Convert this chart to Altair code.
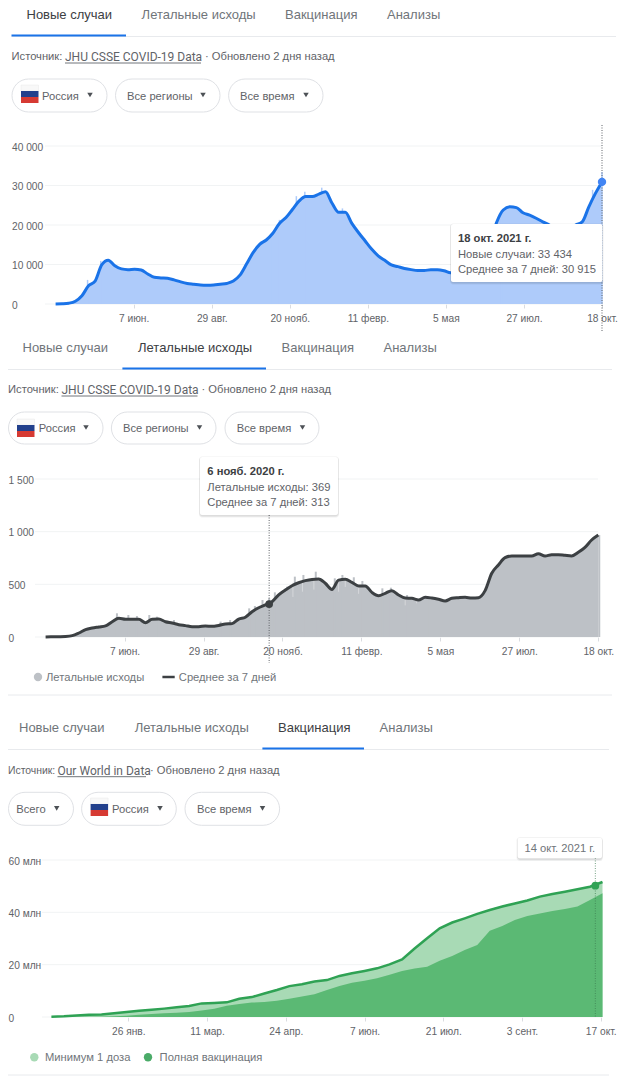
import altair as alt
import pandas as pd

FONT = "Liberation Sans"
LATIN = "Roboto"
GREY = "#70757a"
DARK = "#3c4043"
LINEC = "#e8eaed"
GRID = "#f1f3f4"
BLUE = "#1a73e8"
BODY = 11.2

W, H = 624, 1068

# ---------- Panel 1: new cases ----------
cases_avg = [0, 50, 200, 700, 2100, 4600, 5800, 9900, 11100, 9700, 8900, 8700, 8800, 8600, 7600, 6750, 6600, 6500,
             6100, 5600, 5200, 5000, 4800, 4750, 4800, 5000, 5200, 5800, 7300, 10100, 13000, 15100, 16200, 17900,
             20400, 21900, 24000, 26100, 27200, 27200, 27800, 28400, 25500, 23200, 23200, 20400, 18100, 16000, 13900,
             12200, 11050, 9900, 9450, 9000, 8700, 8500, 8500, 8650, 8650, 8400, 7900, 8000, 8500, 9300, 10000, 12000,
             15500, 20700, 23800, 24600, 24400, 23100, 22500, 21700, 20800, 20000, 19000, 18500, 18800, 20000, 20800,
             24600, 28000, 30915]
cases_spike_dates = ["2020-04-19", "2020-05-03", "2020-10-31", "2020-11-09", "2020-11-27", "2020-12-06", "2020-12-24",
                     "2021-01-15", "2021-07-03", "2021-10-08", "2021-10-18"]
cases_spike_vals = [6100, 10900, 17500, 21300, 27300, 28400, 29450, 24200, 22300, 28900, 33434]
cases_grid = [0, 10000, 20000, 30000, 40000]
cases_ticks = ["2020-06-07", "2020-08-29", "2020-11-20", "2021-02-11", "2021-05-05", "2021-07-27", "2021-10-18"]

# ---------- Panel 2: deaths ----------
deaths_avg = [0, 2, 3, 5, 13, 38, 70, 85, 95, 105, 145, 177, 168, 168, 168, 136, 168, 170, 145, 133, 117, 108, 98, 98,
              105, 101, 110, 123, 127, 170, 187, 240, 278, 304, 335, 400, 446, 487, 515, 535, 547, 550, 510, 452, 540,
              548, 519, 484, 484, 424, 392, 415, 440, 399, 370, 367, 351, 377, 370, 358, 342, 367, 373, 377, 370, 373,
              440, 605, 684, 753, 769, 769, 769, 769, 791, 769, 782, 782, 775, 769, 804, 851, 921, 968]
deaths_spike_dates = ["2020-05-30", "2020-06-11", "2020-06-20", "2020-07-03", "2020-07-11", "2020-07-29", "2020-09-16",
                      "2020-09-26", "2020-10-16", "2020-10-22", "2020-10-30", "2020-11-06", "2020-11-12", "2020-11-25",
                      "2020-12-03", "2020-12-12", "2020-12-25", "2021-01-14", "2021-01-22", "2021-02-03", "2021-02-12",
                      "2021-03-05", "2021-03-14", "2021-03-31", "2021-04-21", "2021-10-19"]
deaths_spike_vals = [225, 209, 199, 209, 193, 161, 146, 161, 272, 294, 351, 369, 424, 478, 573, 589, 620, 557, 589, 567,
                     532, 462, 468, 399, 389, 968]
deaths_notch_dates = ["2020-07-29", "2020-12-01", "2020-12-11", "2020-12-23", "2021-01-18", "2021-01-25", "2021-02-08",
                      "2021-03-29", "2021-04-10"]
deaths_notch_low = [110, 380, 430, 450, 430, 475, 410, 300, 320]
deaths_notch_top = [133, 515, 535, 547, 540, 548, 484, 370, 360]
deaths_grid = [0, 500, 1000, 1500]

# ---------- Panel 3: vaccination ----------
dose1 = [0.13, 0.25, 0.6, 0.9, 1.0, 1.4, 1.9, 2.4, 2.8, 3.2, 3.7, 4.2, 5.2, 5.35, 5.6, 7.0, 7.6, 9.0, 10.3, 11.8, 12.5,
         13.6, 14.1, 15.7, 16.7, 17.6, 18.6, 20.1, 22.0, 26.2, 30.1, 33.9, 36.1, 37.7, 39.4, 40.9, 42.2, 43.4, 44.5,
         46.0, 47.0, 47.9, 48.8, 49.8, 51.6]
full_dose = [0, 0, 0.02, 0.05, 0.1, 0.25, 0.5, 0.9, 1.15, 1.4, 1.65, 1.9, 2.5, 3.2, 4.3, 5.0, 5.5, 5.7, 6.2, 7.0, 7.8,
             8.7, 10.3, 11.8, 13.1, 13.9, 14.8, 16.1, 17.6, 18.5, 19.2, 21.5, 23.3, 25.6, 27.5, 33.0, 34.8, 37.1, 38.6,
             39.6, 40.5, 41.3, 42.2, 44.7, 47.3]
vax_grid = [0, 20000000, 40000000, 60000000]
vax_ticks = ["2021-01-26", "2021-03-11", "2021-04-24", "2021-06-07", "2021-07-21", "2021-09-03", "2021-10-17"]

MONTHS = "['янв.','февр.','мар.','апр.','мая','июн.','июл.','авг.','сент.','окт.','нояб.','дек.']"
DATE_EXPR = f"date(datum.value) + ' ' + {MONTHS}[month(datum.value)]"
weeks_a = pd.date_range("2020-03-16", periods=84, freq="7D")
weeks_v = pd.date_range("2020-12-14", periods=45, freq="7D")

df_cases = pd.DataFrame({"d": weeks_a, "v": cases_avg})
df_cspk = pd.DataFrame({"d": pd.to_datetime(cases_spike_dates), "v": cases_spike_vals, "b": 0})
df_cgrid = pd.DataFrame({"v": cases_grid})
df_deaths = pd.DataFrame({"d": weeks_a, "v": deaths_avg})
df_dspk = pd.DataFrame({"d": pd.to_datetime(deaths_spike_dates), "v": deaths_spike_vals, "b": 0})
df_dnotch = pd.DataFrame({"d": pd.to_datetime(deaths_notch_dates), "v": deaths_notch_low, "t": deaths_notch_top})
df_dgrid = pd.DataFrame({"v": deaths_grid})
df_vax = pd.DataFrame({"d": weeks_v, "a": [x * 1e6 for x in dose1], "f": [x * 1e6 for x in full_dose]})
df_vgrid = pd.DataFrame({"v": vax_grid})


def lx(p):
    return p - 8


def ly(p):
    return p - 8


def txt(s, x, y, size=BODY, color=GREY, weight="normal", align="left", font=FONT):
    return alt.Chart().mark_text(font=font, fontSize=size, color=color, fontWeight=weight, align=align,
                                 baseline="middle").encode(x=alt.value(lx(x)), y=alt.value(ly(y) + 1),
                                                           text=alt.value(s))


def box(x0, x1, y0, y1, fill="white", stroke=None, radius=0, opacity=1.0, sw=1):
    kw = dict(fill=fill, cornerRadius=radius, opacity=opacity)
    if stroke:
        kw.update(stroke=stroke, strokeWidth=sw)
    return alt.Chart().mark_rect(**kw).encode(x=alt.value(lx(x0)), x2=alt.value(lx(x1)), y=alt.value(ly(y0)),
                                              y2=alt.value(ly(y1)))


def hline(x0, x1, y, color=LINEC, w=1):
    return alt.Chart().mark_rule(color=color, strokeWidth=w).encode(x=alt.value(lx(x0)), x2=alt.value(lx(x1)),
                                                                    y=alt.value(ly(y)))


def tri(x, y):
    return alt.Chart().mark_point(shape="triangle-down", filled=True, size=30, color="#4d5156", opacity=1).encode(
        x=alt.value(lx(x)), y=alt.value(ly(y)))


def dot(x, y, color, size=70):
    return alt.Chart().mark_point(shape="circle", filled=True, size=size, color=color, opacity=1).encode(
        x=alt.value(lx(x)), y=alt.value(ly(y)))


def flag(x0, y0):
    w, h = 17.5, 6
    return [box(x0, x0 + w, y0, y0 + h, fill="#f8f8f8", stroke="#e8e8e8", sw=0.5),
            box(x0, x0 + w, y0 + h, y0 + 2 * h, fill="#22408c"),
            box(x0, x0 + w, y0 + 2 * h, y0 + 3 * h, fill="#d63a33")]


def tabs(xs, y, active, ul0, ul1, sep0, sep1):
    out = []
    for i, (name, x) in enumerate(zip(["Новые случаи", "Летальные исходы", "Вакцинация", "Анализы"], xs)):
        out.append(txt(name, x, y, 13, DARK if i == active else GREY))
    out.append(hline(sep0, sep1, y + 22.5))
    out.append(hline(ul0, ul1, y + 21.5, BLUE, 2))
    return out


def source(x, y, link, linkx, linkend, restx, firstsize=BODY):
    return [txt("Источник:", x, y, firstsize, "#5f6368"), txt(link, linkx, y, 12, "#5f6368", font=LATIN),
            hline(linkx, linkend, y + 7, "#70757a", 1),
            txt("· Обновлено 2 дня назад", restx, y, BODY, "#5f6368")]


def pill(x0, x1, y0, y1, label, tx, trix):
    return [box(x0, x1, y0, y1, stroke="#dfe1e5", radius=16.5), txt(label, tx, (y0 + y1) / 2, BODY, "#5f6368"),
            tri(trix, (y0 + y1) / 2 - 0.5)]


def tooltip(x0, x1, y0, y1):
    return [box(x0 - 1, x1 + 1, y0 - 0.5, y1 + 2.5, fill="black", radius=3, opacity=0.06),
            box(x0 - 0.5, x1 + 0.5, y0, y1 + 1.5, fill="black", radius=3, opacity=0.08),
            box(x0, x1, y0, y1, radius=2)]


def xaxis(zero_y, ticks, expr=DATE_EXPR):
    return alt.Axis(orient="bottom", values=ticks, labelExpr=expr, title=None, grid=False, domain=False,
                    tickColor="#dadce0", tickSize=4, labelPadding=5, labelFont=FONT, labelFontSize=10.2,
                    labelColor="#5f6368", offset=ly(zero_y) - H, labelOverlap=False, labelBound=False,
                    labelFlush=False)


def yaxis(left, vals, expr):
    return alt.Axis(orient="left", values=vals, labelExpr=expr, title=None, grid=False, domain=False, ticks=False,
                    labelPadding=0, labelAlign="left", labelBaseline="middle", labelFont=FONT, labelFontSize=10.2,
                    labelColor="#5f6368", offset=-lx(left), labelOffset=1)


THOUSANDS = "replace(format(datum.value, ','), ',', ' ')"

# ---------- panel 1 charts ----------
x1 = alt.X("d:T", scale=alt.Scale(domain=["2020-03-16", "2021-10-18"], range=[lx(55.6), lx(602)]),
           axis=xaxis(304, cases_ticks))
y1 = alt.Y("v:Q", scale=alt.Scale(domain=[0, 40000], range=[ly(304), ly(146)]), axis=yaxis(11.5, cases_grid, THOUSANDS))
cgrid = alt.Chart(df_cgrid).mark_rule(color=GRID, strokeWidth=1).encode(y=y1, x=alt.value(lx(45)), x2=alt.value(lx(602)))
carea = alt.Chart(df_cases).mark_area(color="#aecbfa", interpolate="monotone").encode(x=x1, y=y1)
cspk = alt.Chart(df_cspk).mark_rule(color="#aecbfa", strokeWidth=1.5).encode(x=x1, y=y1, y2="b:Q")
cline = alt.Chart(df_cases).mark_line(color=BLUE, strokeWidth=3, interpolate="monotone").encode(x=x1, y=y1)
crule = alt.Chart(df_cases.tail(1)).mark_rule(color="#5f6368", strokeWidth=1, strokeDash=[1, 1.5]).encode(
    x=x1, y=alt.value(ly(125)), y2=alt.value(ly(331)))
cdot = alt.Chart(df_cases.tail(1)).mark_point(filled=True, size=70, color="#4285f4", opacity=1).encode(x=x1, y=y1)
p1 = alt.layer(cgrid, carea, cspk, cline, crule, cdot)

# ---------- panel 2 charts ----------
x2 = alt.X("d:T", scale=alt.Scale(domain=["2020-03-16", "2021-10-18"], range=[lx(45.6), lx(598.3)]),
           axis=xaxis(637, cases_ticks))
y2 = alt.Y("v:Q", scale=alt.Scale(domain=[0, 1500], range=[ly(637), ly(479)]), axis=yaxis(8, deaths_grid, THOUSANDS))
dgrid = alt.Chart(df_dgrid).mark_rule(color=GRID, strokeWidth=1).encode(y=y2, x=alt.value(lx(35)), x2=alt.value(lx(598)))
darea = alt.Chart(df_deaths).mark_area(color="#bdc1c6", interpolate="monotone").encode(x=x2, y=y2)
dspk = alt.Chart(df_dspk).mark_rule(color="#bdc1c6", strokeWidth=2).encode(x=x2, y=y2, y2="b:Q")
dnotch = alt.Chart(df_dnotch).mark_rule(color="#d5d7da", strokeWidth=1).encode(x=x2, y=y2, y2="t:Q")
dline = alt.Chart(df_deaths).mark_line(color=DARK, strokeWidth=3, interpolate="monotone").encode(x=x2, y=y2)
drule_df = pd.DataFrame({"d": pd.to_datetime(["2020-11-06"]), "v": [313]})
drule = alt.Chart(drule_df).mark_rule(color="#5f6368", strokeWidth=1, strokeDash=[1, 1.5]).encode(
    x=x2, y=alt.value(ly(515)), y2=alt.value(ly(663)))
ddot = alt.Chart(drule_df).mark_point(filled=True, size=60, color=DARK, opacity=1).encode(x=x2, y=y2)
p2 = alt.layer(dgrid, darea, dspk, dnotch, dline, drule, ddot)

# ---------- panel 3 charts ----------
x3 = alt.X("d:T", scale=alt.Scale(domain=["2020-12-14", "2021-10-18"], range=[lx(51.4), lx(602.5)]),
           axis=xaxis(1017, vax_ticks))
VEXPR = "datum.value == 0 ? '0' : (datum.value / 1000000) + ' млн'"
y3_scale = alt.Scale(domain=[0, 60000000], range=[ly(1017), ly(860)])
y3_axis = yaxis(8, vax_grid, VEXPR)
y3 = alt.Y("v:Q", scale=y3_scale, axis=y3_axis)
ya = alt.Y("a:Q", scale=y3_scale, axis=y3_axis)
yf = alt.Y("f:Q", scale=y3_scale, axis=y3_axis)
vgrid = alt.Chart(df_vgrid).mark_rule(color=GRID, strokeWidth=1).encode(y=y3, x=alt.value(lx(42)), x2=alt.value(lx(602)))
varea_a = alt.Chart(df_vax).mark_area(color="#a8dab5").encode(x=x3, y=ya)
varea_f = alt.Chart(df_vax).mark_area(color="#5bb974").encode(x=x3, y=yf)
vline = alt.Chart(df_vax).mark_line(color="#2fa254", strokeWidth=2.5).encode(x=x3, y=ya)
vrule_df = pd.DataFrame({"d": pd.to_datetime(["2021-10-14"]), "a": [50.2e6]})
vrule = alt.Chart(vrule_df).mark_rule(color="#3c7a50", strokeWidth=1, strokeDash=[1, 1.5], opacity=0.7).encode(
    x=x3, y=alt.value(ly(858)), y2=alt.value(ly(1017)))
vdot = alt.Chart(vrule_df).mark_point(filled=True, size=60, color="#2fa254", opacity=1).encode(x=x3, y=ya)
p3 = alt.layer(vgrid, varea_a, varea_f, vline, vrule, vdot)

# ---------- page furniture ----------
ui = []
ui += tabs([26.5, 141.6, 285, 387], 14, 0, 11.5, 126, 11.5, 616)
ui += source(11.5, 56, "JHU CSSE COVID-19 Data", 65, 201, 205)
ui += pill(12, 107, 79, 112, "Россия", 42, 90) + flag(21, 85)
ui += pill(115.5, 220, 79, 112, "Все регионы", 127, 203)
ui += pill(228.6, 323, 79, 112, "Все время", 240, 306)
ui += tooltip(451, 602.5, 224, 282)
ui += [txt("18 окт. 2021 г.", 458, 238, 11.2, DARK, "bold"), txt("Новые случаи: 33 434", 458, 254, BODY, "#5f6368"),
       txt("Среднее за 7 дней: 30 915", 458, 268.5, BODY, "#5f6368")]

ui += tabs([22.5, 138, 281.5, 383.5], 347, 1, 122.4, 266, 8, 612)
ui += source(8, 389, "JHU CSSE COVID-19 Data", 61.5, 197.5, 201.5)
ui += pill(8.5, 103, 412, 444, "Россия", 38.8, 86) + flag(17, 419)
ui += pill(111.4, 216, 412, 444, "Все регионы", 123, 199.5)
ui += pill(225, 319, 412, 444, "Все время", 236.7, 302.5)
ui += tooltip(200, 338, 457, 515)
ui += [txt("6 нояб. 2020 г.", 207.3, 471, 11.2, DARK, "bold"), txt("Летальные исходы: 369", 207.3, 487, BODY, "#5f6368"),
       txt("Среднее за 7 дней: 313", 207.3, 501.5, BODY, "#5f6368")]
ui += [dot(38, 677, "#bdc1c6"), txt("Летальные исходы", 46, 677, BODY, GREY), hline(162.4, 174.7, 677, DARK, 2.5),
       txt("Среднее за 7 дней", 178.8, 677, BODY, GREY), hline(8, 612, 695)]

ui += tabs([19, 134.7, 278, 379.6], 727, 2, 262.4, 364, 8, 609)
ui += source(8, 769.7, "Our World in Data", 57.5, 146, 150, firstsize=10.4)
ui += pill(8.5, 73.5, 792.3, 825.3, "Всего", 16.3, 56.7)
ui += pill(81.6, 176.3, 792.3, 825.3, "Россия", 112, 160) + flag(90.6, 798)
ui += pill(185, 279.6, 792.3, 825.3, "Все время", 197, 262.5)
ui += tooltip(517.6, 602, 837.7, 858.3)
ui += [txt("14 окт. 2021 г.", 559.8, 848, BODY, GREY, align="center")]
ui += [dot(34.3, 1057.3, "#a8dab5"), txt("Минимум 1 доза", 45, 1057.3, BODY, GREY), dot(148, 1057.3, "#4aab68"),
       txt("Полная вакцинация", 159.6, 1057.3, BODY, GREY), hline(8, 609, 1075)]

chart = alt.layer(p1, p2, p3, *ui).resolve_scale(x="independent", y="independent").properties(
    width=W, height=H, padding=0, autosize=alt.AutoSizeParams(type="none"), background="white"
).configure_view(stroke=None)

chart.save("out.html", embed_options={"renderer": "svg", "actions": False})
